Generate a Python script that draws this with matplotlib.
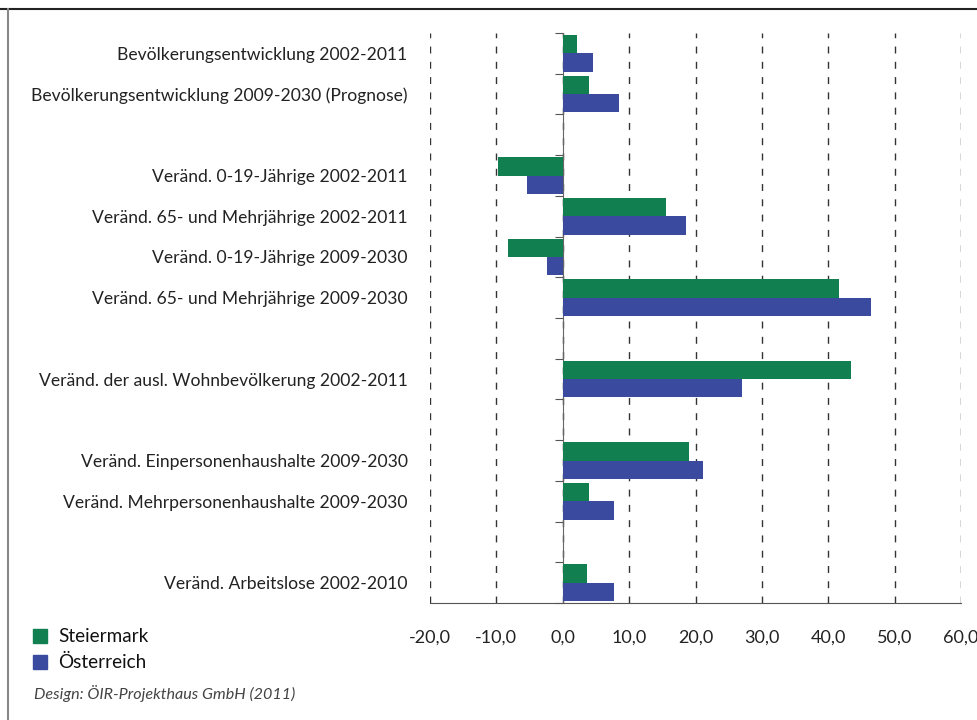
import numpy as np
import matplotlib
matplotlib.use("Agg")
import matplotlib.pyplot as plt
from matplotlib.lines import Line2D
from matplotlib.patches import Rectangle

categories = [
    "Bevölkerungsentwicklung 2002-2011",
    "Bevölkerungsentwicklung 2009-2030 (Prognose)",
    "",
    "Veränd. 0-19-Jährige 2002-2011",
    "Veränd. 65- und Mehrjährige 2002-2011",
    "Veränd. 0-19-Jährige 2009-2030",
    "Veränd. 65- und Mehrjährige 2009-2030",
    "",
    "Veränd. der ausl. Wohnbevölkerung 2002-2011",
    "",
    "Veränd. Einpersonenhaushalte 2009-2030",
    "Veränd. Mehrpersonenhaushalte 2009-2030",
    "",
    "Veränd. Arbeitslose 2002-2010",
]
steiermark = [2.1, 3.9, np.nan, -9.8, 15.5, -8.3, 41.6, np.nan, 43.4, np.nan, 19.0, 3.9, np.nan, 3.6]
oesterreich = [4.5, 8.4, np.nan, -5.4, 18.5, -2.4, 46.4, np.nan, 27.0, np.nan, 21.2, 7.7, np.nan, 7.7]
series_names = ["Steiermark", "Österreich"]
xticks = [-20, -10, 0, 10, 20, 30, 40, 50, 60]

GREEN = "#127f50"
BLUE = "#3a4a9e"
FONT = "Lato"

fig = plt.figure(figsize=(9.78, 7.2), dpi=100)
ax = fig.add_axes([430 / 978, 1 - 603 / 720, 531 / 978, 570 / 720])

y = np.arange(len(categories))
h = 0.45
ax.barh(y - h / 2, steiermark, height=h, color=GREEN, zorder=3)
ax.barh(y + h / 2, oesterreich, height=h, color=BLUE, zorder=3)

ax.set_xlim(-20, 60)
ax.set_ylim(len(categories) - 0.5, -0.5)

ax.set_xticks(xticks)
ax.set_xticklabels([f"{v:.1f}".replace(".", ",") for v in xticks], fontsize=13, family=FONT)
ax.tick_params(axis="x", length=0, pad=19, colors="#222222")
ax.xaxis.grid(True, linestyle=(0, (5, 6)), color="#333333", linewidth=1.0, zorder=1)

ax.spines["left"].set_position(("data", 0))
ax.spines["left"].set_color("#666666")
ax.spines["bottom"].set_color("#555555")
ax.spines["top"].set_visible(False)
ax.spines["right"].set_visible(False)
ax.set_yticks(np.arange(len(categories) + 1) - 0.5)
ax.set_yticklabels([])
ax.tick_params(axis="y", length=6, color="#555555", direction="out")

lab_tr = ax.get_yaxis_transform()
for yi, name in zip(y, categories):
    if name:
        ax.text(-0.042, yi, name, transform=lab_tr, ha="right", va="center_baseline",
                fontsize=12.6, family=FONT, color="#222222")

# legend
for i, (name, col) in enumerate(zip(series_names, [GREEN, BLUE])):
    yy = 1 - (636 + 26 * i) / 720
    fig.patches.append(Rectangle((33 / 978, yy - 7 / 720), 14 / 978, 14 / 720,
                                 transform=fig.transFigure, color=col))
    fig.text(58 / 978, yy, name, ha="left", va="center", fontsize=13.6, family=FONT, color="#111111")

fig.text(34 / 978, 1 - 693 / 720, "Design: ÖIR-Projekthaus GmbH (2011)", ha="left", va="center",
         fontsize=11.6, family=FONT, style="italic", color="#444444")

# frame
fig.add_artist(Line2D([0, 1], [1 - 9 / 720] * 2, transform=fig.transFigure, color="#222222", linewidth=1.5))
fig.add_artist(Line2D([8 / 978] * 2, [0, 1 - 9 / 720], transform=fig.transFigure, color="#888888", linewidth=1.5))

fig.savefig("out.png", dpi=100, facecolor="white")
